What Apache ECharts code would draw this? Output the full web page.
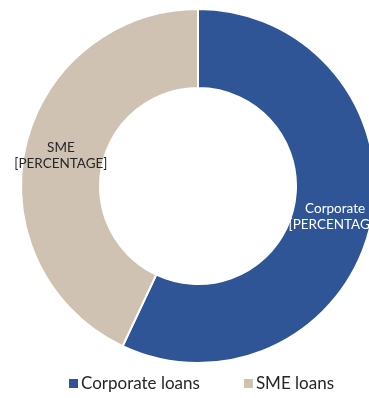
<!DOCTYPE html>
<html>
<head>
<meta charset="utf-8">
<script src="https://cdn.jsdelivr.net/npm/echarts@6/dist/echarts.min.js"></script>
<style>
  html, body { margin: 0; padding: 0; background: #ffffff; }
  #chart { width: 369px; height: 398px; }
</style>
</head>
<body>
<div id="chart"></div>
<script>
// Loan portfolio split
const categories = ['Corporate loans', 'SME loans'];
const sliceLabels = ['Corporate', 'SME'];
const shares = [57, 43];
const colors = ['#2F5597', '#D0C2B2'];
const labelColors = ['#ffffff', '#262626'];

const chart = echarts.init(document.getElementById('chart'), null, { renderer: 'canvas' });

const data = categories.map((name, i) => ({
  name: name,
  value: shares[i],
  itemStyle: { color: colors[i] },
  label: {
    color: labelColors[i],
    formatter: sliceLabels[i] + '\n[PERCENTAGE]'
  }
}));

chart.setOption({
  animation: false,
  legend: {
    data: categories,
    left: 62,
    top: 370,
    icon: 'rect',
    itemWidth: 11,
    itemHeight: 11,
    itemGap: 42,
    textStyle: {
      fontFamily: 'Lato',
      fontSize: 17,
      color: '#262626',
      padding: [0, 0, 0, -3]
    }
  },
  series: [{
    type: 'pie',
    center: [198, 186],
    radius: [98, 177],
    startAngle: 90,
    clockwise: true,
    avoidLabelOverlap: false,
    itemStyle: { borderColor: '#ffffff', borderWidth: 2 },
    label: {
      show: true,
      position: 'inside',
      fontFamily: 'Lato',
      fontSize: 13.5,
      lineHeight: 16,
      align: 'center'
    },
    labelLine: { show: false },
    emphasis: { disabled: true },
    data: data
  }]
});
</script>
</body>
</html>
